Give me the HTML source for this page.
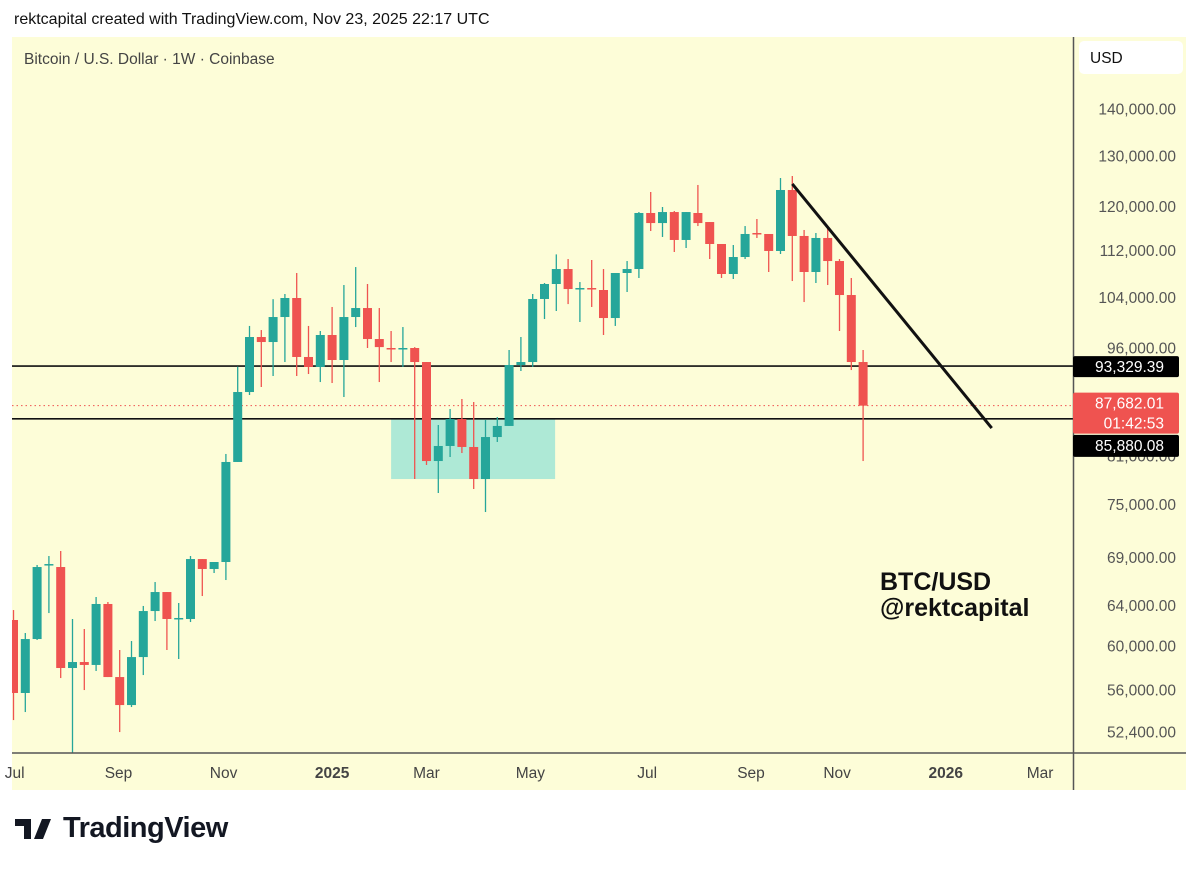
<!DOCTYPE html>
<html><head><meta charset="utf-8">
<style>
html,body{margin:0;padding:0;background:#fff;width:1200px;height:869px;overflow:hidden;font-family:"Liberation Sans",sans-serif;}
#hdr{position:absolute;left:14px;top:11px;font-size:16px;color:#111;}
#chart{position:absolute;left:0;top:0;}
#logo{position:absolute;left:15px;top:812px;font-size:29px;font-weight:bold;color:#131722;letter-spacing:-0.5px;}
</style></head><body>
<div id="hdr">rektcapital created with TradingView.com, Nov 23, 2025 22:17 UTC</div>
<svg id="chart" width="1200" height="869"></svg>
<div id="logo"><span style="display:inline-block;width:8px;height:20px;"></span><svg width="40" height="22" style="position:absolute;left:0;top:7px"><path d="M0 0H16V20H9V7H0Z M18 0 a4 4 0 1 1 0.01 0Z M27 0H36L28 20H19Z" fill="#131722"/></svg><span style="margin-left:40px">TradingView</span></div>
<script>
const opens  =[62530,55730,60680,68200,67980,57970,58520,58250,64130,57150,54680,58980,63420,65350,62630,62630,68840,67770,68520,80230,89590,97710,96940,100840,103910,94680,93200,98020,94230,100840,102280,97400,96030,95880,96030,93930,80350,82280,85850,82150,78100,83450,84920,93490,93930,103750,106230,108770,105390,105560,105230,100680,108090,108770,118820,116950,119000,113870,118820,117140,113150,107920,110850,115130,114950,111910,123210,114590,108260,114230,110150,104400,93930];
const highs  =[63520,61260,68200,69170,69720,62630,61650,64840,64330,59640,60490,63930,66390,65350,64230,69170,68840,68520,81250,93260,99430,98790,103720,104570,108090,99430,98640,102450,106060,109110,106230,102280,98640,99260,96170,93930,85050,87220,88610,88190,85720,86130,95730,97710,104570,106400,111310,110500,106560,110330,108770,108090,110150,119000,122820,119950,119190,119000,124190,117140,113150,112970,116400,117700,114950,125560,125960,115680,115130,116040,110500,107240,95730];
const lows   =[53400,54080,60590,63220,57060,50700,55990,57700,57150,52400,54510,57330,62430,59640,58800,62330,64940,67340,66600,80230,89170,90300,91880,93930,91880,92170,91010,90870,88890,99260,96030,91010,93930,93200,78100,79850,76400,80860,81370,76880,74140,82800,84920,92610,93200,100520,101800,102920,100050,102450,98020,99430,104900,107240,115490,114410,111730,112440,116400,110500,107240,107070,110500,114230,108260,111380,106730,103250,106400,106060,98640,92750,80350];
const closes =[55730,60680,67980,68300,57970,58520,58250,64130,57150,54680,58980,63420,65350,62630,62730,68840,67770,68520,80230,89590,97710,96940,100840,103910,94680,93200,98020,94230,100840,102280,97400,96170,95880,96030,93930,80350,82280,85850,82150,78100,83450,84920,93490,93930,103750,106230,108770,105390,105560,105390,100680,108090,108770,118820,116950,119000,113870,119000,116950,113150,107920,110850,114950,114950,111910,123210,114590,108260,114230,110150,104400,93930,87682];
const priceTicks=[140000,130000,120000,112000,104000,96000,88000,81000,75000,69000,64000,60000,56000,52400];
const levels=[93329.39,85880.08];
const lastPrice=87682.01;
const trendIdx=[66,82.9];
const trendPrice=[124400,84640];
const boxIdx=[32,45.9];
const boxPrice=[85880,78100];
const timeLabels=["Jul","Sep","Nov","2025","Mar","May","Jul","Sep","Nov","2026","Mar"];
const timeIdx=[0.1,8.9,17.8,27,35,43.8,53.7,62.5,69.8,79,87];
const timeBold=[false,false,false,true,false,false,false,false,false,true,false];

const svg=document.getElementById('chart');
const NS='http://www.w3.org/2000/svg';
const X=i=>13.5+11.8*i;
const Y=p=>109+634*Math.log(140000/p);
function mk(tag,at,parent){const e=document.createElementNS(NS,tag);for(const k in at)e.setAttribute(k,at[k]);(parent||svg).appendChild(e);return e;}

const bg=mk('rect',{x:12,y:37,width:1174,height:753,fill:'#fdfdd8'});


const clipDef=mk('defs',{});
const cp=mk('clipPath',{id:'pc'},clipDef);mk('rect',{x:12,y:37,width:1061,height:716},cp);
const plot=mk('g',{'clip-path':'url(#pc)'});



const box=mk('rect',{x:X(boxIdx[0]),y:Y(boxPrice[0]),width:X(boxIdx[1])-X(boxIdx[0]),height:Y(boxPrice[1])-Y(boxPrice[0]),fill:'#aee9d6'},plot);



levels.forEach((lv,k)=>{
 const l=mk('line',{x1:12,x2:1073,y1:Y(lv),y2:Y(lv),stroke:'#111','stroke-width':1.6},plot);
 
 
});
const cl=mk('line',{x1:12,x2:1073,y1:Y(lastPrice),y2:Y(lastPrice),stroke:'#ef5350','stroke-width':1,'stroke-dasharray':'1.5 3'},plot);



for(let i=0;i<opens.length;i++){
 const up=closes[i]>=opens[i];const col=up?'#26a69a':'#ef5350';
 const g=mk('g',{},plot);
 
 
 const x=X(i);
 mk('line',{x1:x,x2:x,y1:Y(highs[i]),y2:Y(lows[i]),stroke:col,'stroke-width':1.3},g);
 const t=Math.min(Y(opens[i]),Y(closes[i]));const h=Math.max(1.5,Math.abs(Y(opens[i])-Y(closes[i])));
 mk('rect',{x:x-4.5,y:t,width:9,height:h,fill:col},g);
}
const tl=mk('line',{x1:X(trendIdx[0]),y1:Y(trendPrice[0]),x2:X(trendIdx[1]),y2:Y(trendPrice[1]),stroke:'#111','stroke-width':3},plot);



mk('line',{x1:12,x2:1186,y1:753,y2:753,stroke:'#555','stroke-width':1.5});
mk('line',{x1:1073.5,x2:1073.5,y1:37,y2:790,stroke:'#555','stroke-width':1.5});

const title=mk('text',{x:24,y:64,'font-size':15.5,fill:'#444','font-family':'Liberation Sans, sans-serif'});
title.textContent='Bitcoin / U.S. Dollar · 1W · Coinbase';



const usd=mk('rect',{x:1079,y:41,width:104,height:33,rx:5,fill:'#fff'});


const ut=mk('text',{x:1090,y:63,'font-size':15.5,fill:'#111','font-family':'Liberation Sans, sans-serif'});ut.textContent='USD';



const fmt=v=>v.toLocaleString('en-US',{minimumFractionDigits:2,maximumFractionDigits:2});
priceTicks.forEach(p=>{
 const t=mk('text',{x:1176,y:Y(p)+5.5,'text-anchor':'end','font-size':15.5,fill:'#555','font-family':'Liberation Sans, sans-serif'});
 t.textContent=fmt(p);
 
 
});
function tag(y,h,fill,lines,name){
 const g=mk('g',{});
 
 
 mk('rect',{x:1073,y:y,width:106,height:h,rx:2,fill:fill},g);
 lines.forEach((s,k)=>{const t=mk('text',{x:1164,y:y+16+k*20,'text-anchor':'end','font-size':15.5,fill:'#fff','font-family':'Liberation Sans, sans-serif'},g);t.textContent=s;});
}
tag(Y(levels[0])-10,21,'#000',[fmt(levels[0])],'level-price-tag-1');
tag(Y(lastPrice)-13,41,'#ef5350',[fmt(lastPrice),'01:42:53'],'current-price-tag');
tag(Y(levels[1])+16,22,'#000',[fmt(levels[1])],'level-price-tag-2');

timeLabels.forEach((s,k)=>{
 const t=mk('text',{x:X(timeIdx[k]),y:778,'text-anchor':'middle','font-size':15.5,fill:'#444','font-weight':timeBold[k]?'bold':'normal','font-family':'Liberation Sans, sans-serif'});
 t.textContent=s;
 
 
});
const a1=mk('text',{x:880,y:590,'font-size':25,'font-weight':'bold',fill:'#111','font-family':'Liberation Sans, sans-serif'});a1.textContent='BTC/USD';


const a2=mk('text',{x:880,y:616,'font-size':25,'font-weight':'bold',fill:'#111','font-family':'Liberation Sans, sans-serif'});a2.textContent='@rektcapital';


</script>
</body></html>
